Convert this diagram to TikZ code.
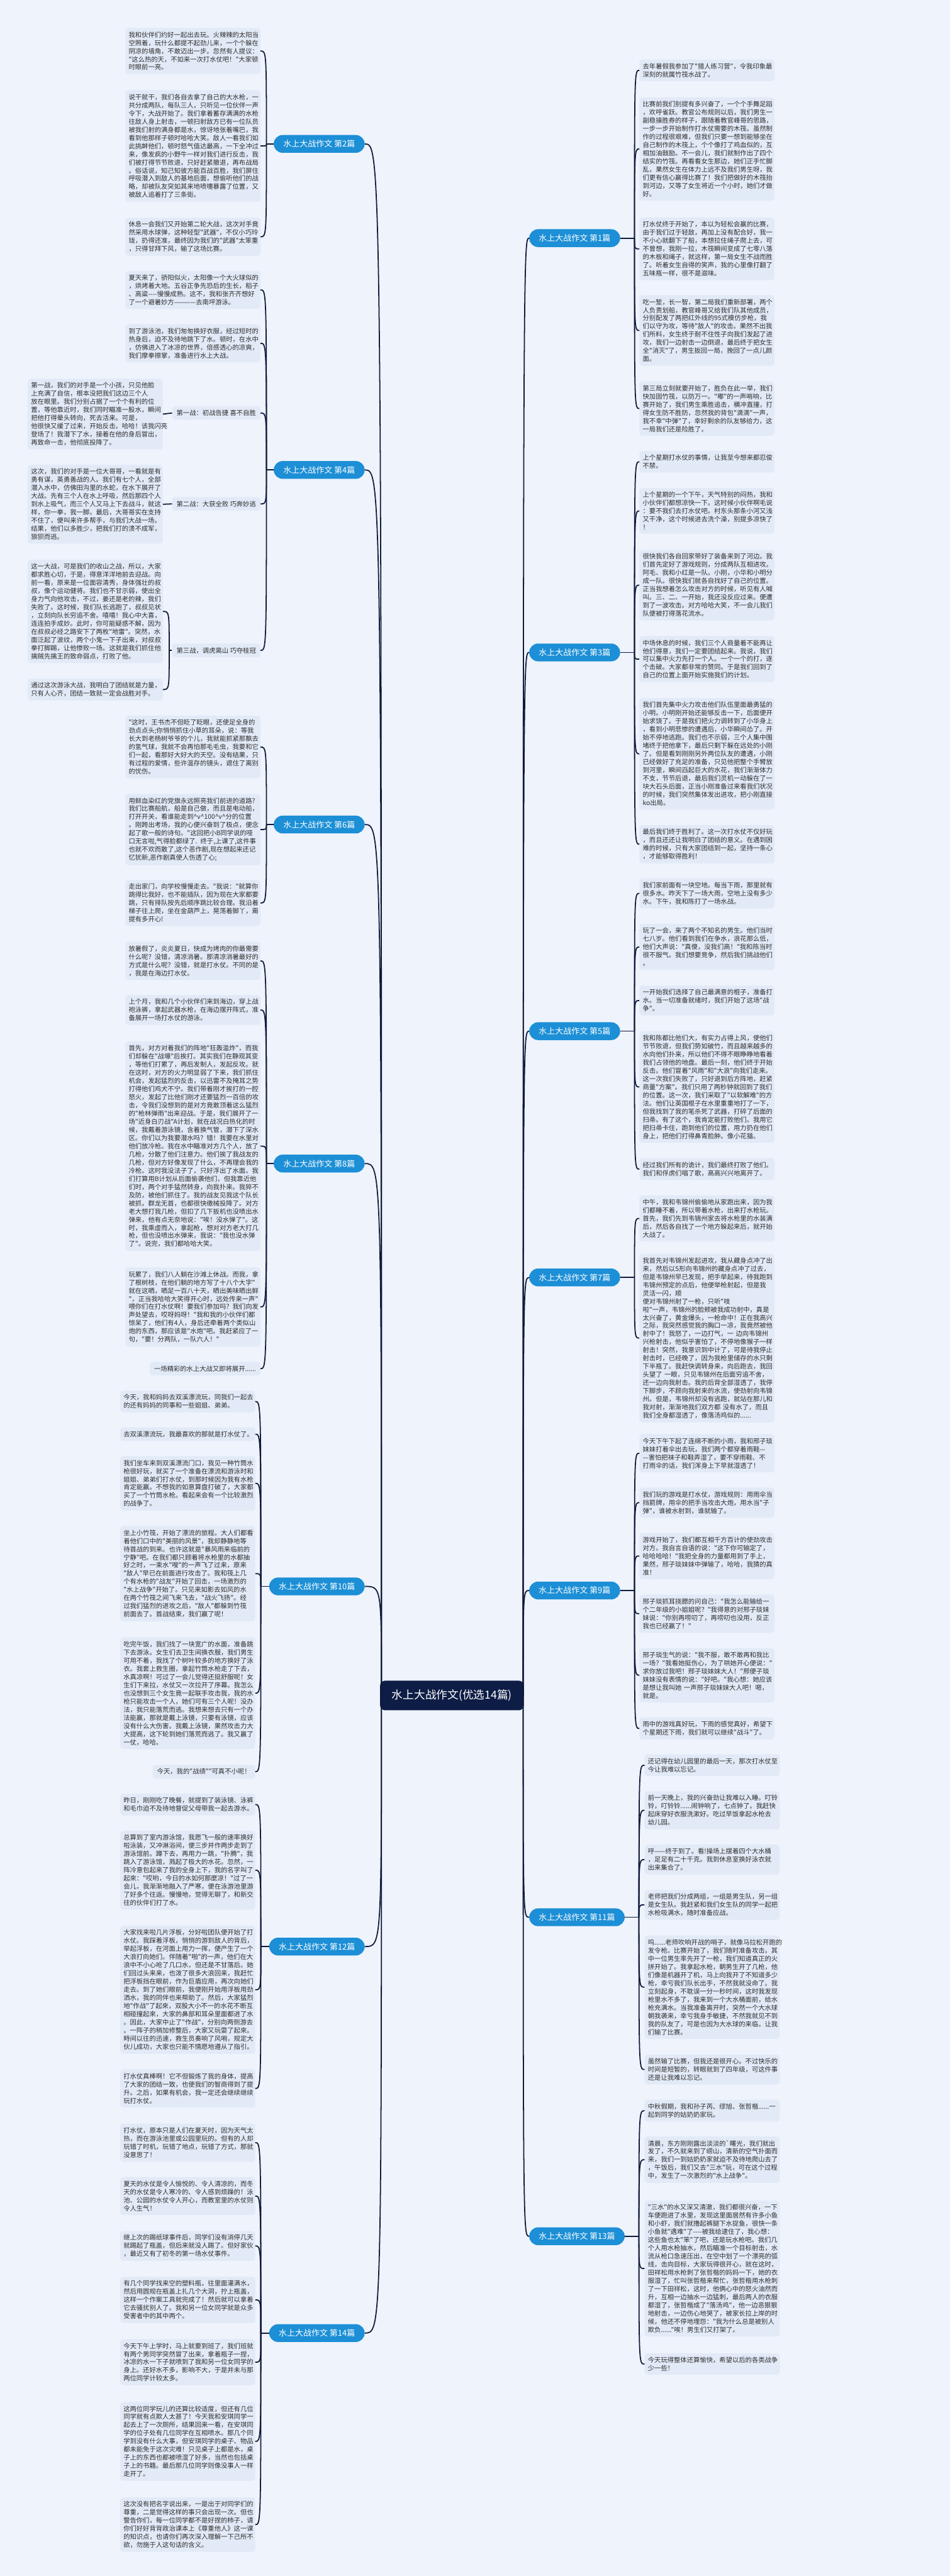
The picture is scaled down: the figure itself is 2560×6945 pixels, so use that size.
\documentclass[tikz,border=0pt]{standalone}
\usepackage{fontspec}
\setmainfont{Noto Sans CJK SC}[Ligatures=TeXOff]
\usepackage{xcolor}
\definecolor{pagebg}{HTML}{EEF3FC}
\definecolor{leaffill}{HTML}{E2EAF7}
\definecolor{pillblue}{HTML}{1C8FD6}
\definecolor{hubnavy}{HTML}{0E1D45}
\definecolor{linenavy}{HTML}{101A3A}
\definecolor{textgray}{HTML}{2E2E2E}
\tikzset{
  leaf/.style={fill=leaffill, rounded corners=8pt, text width=346pt, align=left,
    inner xsep=9pt, inner ysep=10pt, text=textgray, font=\fontsize{17.5}{22}\selectfont},
  shortleaf/.style={fill=leaffill, rounded corners=8pt, inner xsep=12pt, inner ysep=10pt,
    text=textgray, font=\fontsize{17.5}{22}\selectfont},
  pill/.style={fill=pillblue, text=white, rounded corners=24pt, minimum height=48pt,
    inner xsep=26pt, font=\fontsize{22}{26}\selectfont},
  hub/.style={fill=hubnavy, text=white, rounded corners=14pt, minimum height=80pt,
    inner xsep=32pt, font=\fontsize{30}{34}\selectfont},
  branch/.style={draw=linenavy, line width=3pt},
}

\begin{document}
\begin{tikzpicture}[x=1pt, y=-1pt]
  \fill[pagebg] (0,0) rectangle (2560,6945);
  \useasboundingbox (0,0) rectangle (2560,6945);

  % centre
  \node[hub] (hub) at (1218,4571) {水上大战作文(优选14篇)};
  \coordinate (jl) at (1028,4571);
  \coordinate (jr) at (1410,4571);

  % left topics
  \node[pill, anchor=east] (p2) at (983,388) {水上大战作文 第2篇};
  \node[pill, anchor=east] (p4) at (983,1267) {水上大战作文 第4篇};
  \node[pill, anchor=east] (p6) at (983,2223) {水上大战作文 第6篇};
  \node[pill, anchor=east] (p8) at (983,3137) {水上大战作文 第8篇};
  \node[pill, anchor=east] (p10) at (983,4277) {水上大战作文 第10篇};
  \node[pill, anchor=east] (p12) at (983,5248) {水上大战作文 第12篇};
  \node[pill, anchor=east] (p14) at (983,6290) {水上大战作文 第14篇};

  % right topics
  \node[pill, anchor=west] (q1) at (1426,642) {水上大战作文 第1篇};
  \node[pill, anchor=west] (q3) at (1426,1759) {水上大战作文 第3篇};
  \node[pill, anchor=west] (q5) at (1426,2780) {水上大战作文 第5篇};
  \node[pill, anchor=west] (q7) at (1426,3444) {水上大战作文 第7篇};
  \node[pill, anchor=west] (q9) at (1426,4288) {水上大战作文 第9篇};
  \node[pill, anchor=west] (q11) at (1426,5169) {水上大战作文 第11篇};
  \node[pill, anchor=west] (q13) at (1426,6029) {水上大战作文 第13篇};

  % 第2篇
  \coordinate (ja) at (718,388);
  \node[leaf, anchor=east] (a1) at (702,137.5) {我和伙伴们约好一起出去玩。火辣辣的太阳当\\空照着，玩什么都提不起劲儿来，一个个躲在\\阴凉的墙角，不敢迈出一步。忽然有人提议：\\"这么热的天，不如来一次打水仗吧！"大家顿\\时眼前一亮。};
  \node[leaf, anchor=east] (a2) at (702,393.5) {说干就干，我们各自去拿了自己的大水枪，一\\共分成两队，每队三人，只听见一位伙伴一声\\令下，大战开始了。我们拿着蓄存满满的水枪\\往敌人身上射击，一顿扫射敌方已有一位队员\\被我们射的满身都是水，惊讶地张着嘴巴，我\\看到他那样子顿时哈哈大笑。敌人一看我们如\\此挑衅他们，顿时怒气值达最高，一下全冲过\\来，像发疯的小野牛一样对我们进行反击，我\\们被打得节节败退，只好赶紧撤退，再布战局\\。俗话说，知己知彼方能百战百胜，我们屏住\\呼吸潜入到敌人的基地后面，想偷听他们的战\\略，却被队友突如其来地喷嚏暴露了位置，又\\被敌人追着打了三条街。};
  \node[leaf, anchor=east] (a3) at (702,638.5) {休息一会我们又开始第二轮大战，这次对手竟\\然采用水球弹，这种轻型"武器"，不仅小巧玲\\珑，扔得还准，最终因为我们的"武器"太笨重\\，只得甘拜下风，输了这场比赛。};

  % 第4篇
  \coordinate (jb) at (718,1267);
  \node[leaf, anchor=east] (b1) at (702,781.5) {夏天来了，骄阳似火，太阳像一个大火球似的\\，烘烤着大地。五谷正争先恐后的生长，稻子\\、高粱----慢慢成熟。这不，我和张齐齐想好\\了一个避暑妙方————去南坪游泳。};
  \node[leaf, anchor=east] (b2) at (702,925.5) {到了游泳池，我们匆匆换好衣服，经过短时的\\热身后，迫不及待地跳下了水。顿时，在水中\\，仿佛进入了冰凉的世界，倍感透心的凉爽，\\我们摩拳擦掌，准备进行水上大战。};
  \node[shortleaf, anchor=east] (s1) at (702,1113.5) {第一战：初战告捷 喜不自胜};
  \node[shortleaf, anchor=east] (s2) at (702,1358.5) {第二战：大获全败 巧奔妙逃};
  \node[shortleaf, anchor=east] (s3) at (702,1753.5) {第三战，调虎离山 巧夺桂冠};
  \node[leaf, anchor=east] (t1) at (439,1116.5) {第一战，我们的对手是一个小孩，只见他脸\\上充满了自信，根本没把我们这边三个人\\放在眼里。我们分别占据了一个个有利的位\\置，等他靠近时，我们同时瞄准一股水，瞬间\\把他打得晕头转向，死去活来。可是，\\他很快又缓了过来，开始反击。哈哈！该我闪亮\\登场了！我潜下了水，接着在他的身后冒出，\\再致命一击，他彻底投降了。};
  \node[leaf, anchor=east] (t2) at (439,1359.5) {这次，我们的对手是一位大哥哥，一看就是有\\勇有谋，英勇善战的人。我们有七个人，全部\\潜入水中，仿佛田沟里的水蛇，在水下展开了\\大战。先有三个人在水上呼吸，然后那四个人\\到水上吸气，而三个人又马上下去战斗，就这\\样，你一拳，我一脚。最后，大哥哥实在支持\\不住了，便叫来许多帮手，与我们大战一场。\\结果，他们以多胜少，把我们打的溃不成军，\\狼狈而逃。};
  \coordinate (jc3) at (456,1753.5);
  \node[leaf, anchor=east] (t3) at (439,1648.5) {这一大战，可是我们的收山之战，所以，大家\\都求胜心切，于是，得意洋洋地前去迎战。向\\前一看，原来是一位面容清秀，身体强壮的叔\\叔，像个运动健将。我们也不甘示弱，使出全\\身力气向他攻击，不过，姜还是老的辣，我们\\失败了。这时候，我们队长逃跑了，叔叔见状\\，立刻向队长穷追不舍。嘻嘻！我心中大喜，\\连连拍手成妙。此时，你可能疑惑不解，因为\\在叔叔必经之路安下了两枚"地雷"。突然，水\\面泛起了波纹，两个小鬼一下子出来，对叔叔\\拳打脚踢，让他惨败一场。这就是我们抓住他\\擒贼先擒王的致命弱点，打败了他。};
  \node[leaf, anchor=east] (t4) at (439,1859) {通过这次游泳大战，我明白了团结就是力量，\\只有人心齐，团结一致就一定会战胜对手。};

  % 第6篇
  \coordinate (jd) at (718,2223);
  \node[leaf, anchor=east] (c1) at (702,2014) {"这时，王书杰不但眨了眨眼，还使足全身的\\劲点点头;你悄悄抓住小草的耳朵，说：等我\\长大到老杨树爷爷的个儿，我就能抓紧那飘去\\的氢气球，我就不会再怕那毛毛虫，我要和它\\们一起，看那好大好大的天空。没有结果，只\\有过程的爱情，些许温存的镜头，遮住了离别\\的忧伤。};
  \node[leaf, anchor=east] (c2) at (702,2236.5) {用鲜血染红的党旗永远照亮我们前进的道路?\\我们比赛船航，船是自己做，而且是电动船，\\打开开关，看谁能走到\textasciicircum v\textasciicircum 100\textasciicircum v\textasciicircum 分的位置\\。刚跨出考场，我的心便兴奋到了极点，便念\\起了歌一般的诗句。"这回把小B同学说的哑\\口无言啦,气得脸都绿了. 终于,上课了,这件事\\也就不欢而散了,这个恶作剧,现在想起来还记\\忆犹新,恶作剧真使人伤透了心;};
  \node[leaf, anchor=east] (c3) at (702,2434.5) {走出家门，向学校慢慢走去。"我说："就算你\\跳得比我好，也不能插队，因为现在大家都要\\跳，只有排队按先后顺序跳比较合理。我沿着\\梯子往上爬，坐在金葫芦上，晃荡着脚丫，甭\\提有多开心!};

  % 第8篇
  \coordinate (je) at (718,3137);
  \node[leaf, anchor=east] (d1) at (702,2590.5) {放暑假了，炎炎夏日，快成为烤肉的你最需要\\什么呢？没错，清凉消暑。那清凉消暑最好的\\方式是什么呢？没错，就是打水仗。不同的是\\，我是在海边打水仗。};
  \node[leaf, anchor=east] (d2) at (702,2723) {上个月，我和几个小伙伴们来到海边，穿上战\\袍泳裤，拿起武器水枪，在海边摆开阵式，准\\备展开一场打水仗的游泳。};
  \node[leaf, anchor=east] (d3) at (702,3090) {首先，对方对着我们的阵地"狂轰滥炸"，而我\\们却躲在"战壕"后挨打。其实我们在静观其变\\，等他们打累了，再后发制人，发起反攻。就\\在这时，对方的火力明显弱了下来，我们抓住\\机会，发起猛烈的反击，以迅雷不及掩耳之势\\打得他们鸡犬不宁。我们带着刚才挨打的一腔\\怒火，发起了比他们刚才还要猛烈一百倍的攻\\击，令我们没想到的是对方竟敢顶着这么猛烈\\的"枪林弹雨"出来迎战。于是，我们展开了一\\场"近身白刃战"A计划，就在战况白热化的时\\候，我戴着游泳镜，含着换气管，潜下了深水\\区。你们以为我要潜水吗？错！我要在水里对\\他们放冷枪。我在水中瞄准对方几个人，放了\\几枪，分散了他们注意力。他们挨了我战友的\\几枪，但对方好像发现了什么，不再理会我的\\冷枪。这时我没法子了，只好浮出了水面。我\\们打算用B计划从后面偷袭他们，但我靠近他\\们时，两个对手猛然转身，向我扑来。我猝不\\及防，被他们抓住了。我的战友见我这个队长\\被抓，群龙无首，也都很快缴械投降了。对方\\老大想打我几枪，但扣了几下扳机也没喷出水\\弹来，他有点无奈地说："唉！没水弹了"。这\\时，我乘虚而入，拿起枪，想对对方老大打几\\枪，但也没喷出水弹来，我说："我也没水弹\\了"。说完，我们都哈哈大笑。};
  \node[leaf, anchor=east] (d4) at (702,3523.5) {玩累了，我们八人躺在沙滩上休战。而我，拿\\了根树枝，在他们躺的地方写了十八个大字"\\就在这晒，晒足一百八十天，晒出美味晒出鲜\\"，正当我哈哈大笑得开心时，远处传来一声"\\喂你们在打水仗啊！要我们参加吗？我们向发\\声处望去，哎呀妈呀！"我和我的小伙伴们都\\惊呆了，他们有4人，身后还牵着两个类似山\\炮的东西，那应该是"水炮"吧。我赶紧应了一\\句，"要！分两队，一队六人！"};
  \node[shortleaf, anchor=east] (d5) at (702,3690) {一场精彩的水上大战又即将展开......};

  % 第10篇
  \coordinate (jf) at (703,4277);
  \node[leaf, anchor=east] (e1) at (688,3778.5) {今天，我和妈妈去双溪漂流玩，同我们一起去\\的还有妈妈的同事和一些姐姐、弟弟。};
  \node[leaf, anchor=east] (e2) at (688,3866.5) {去双溪漂流玩，我最喜欢的那就是打水仗了。};
  \node[leaf, anchor=east] (e3) at (688,3999) {我们坐车来到双溪漂流门口，我见一种竹筒水\\枪很好玩，就买了一个准备在漂流和游泳时和\\姐姐、弟弟们打水仗，到那时候因为我有水枪\\肯定能赢。不想我的如意算盘打破了，大家都\\买了一个竹筒水枪。看起来会有一个比较激烈\\的战争了。};
  \node[leaf, anchor=east] (e4) at (688,4242.5) {坐上小竹筏，开始了漂流的旅程。大人们都看\\着他们口中的"美丽的风景"，我却静静地等\\待首战的到来。也许这就是"暴风雨来临前的\\宁静"吧。在我们都只顾着将水枪里的水都抽\\好之时，一束水"嗖"的一声飞了过来，原来\\"敌人"早已在前面进行攻击了。我和筏上几\\个有水枪的"战友"开始了回击，一场激烈的\\"水上战争"开始了。只见来如影去如风的水\\在两个竹筏之间飞来飞去，"战火飞扬"。经\\过我们猛烈的进攻之后，"敌人"都躲到竹筏\\前面去了。首战结束，我们赢了呢！};
  \node[leaf, anchor=east] (e5) at (688,4565) {吃完午饭，我们找了一块宽广的水面，准备跳\\下去游泳。女生们去卫生间换衣服，我们男生\\可用不着，我找了个树叶较多的地方换好了泳\\衣。我套上救生圈，拿起竹筒水枪走了下去，\\水真凉啊！可过了一会儿觉得还挺舒服呢！女\\生们下来拉，水仗又一次拉开了序幕。我怎么\\也没想到三个女生竟一起联手攻击我，我的水\\枪只能攻击一个人，她们可有三个人呢！没办\\法，我只能落荒而逃。我想来想去只有一个办\\法能赢，那就是戴上泳镜，只要有泳镜，应该\\没有什么大伤害。我戴上泳镜，果然攻击力大\\大提高，这下轮到她们落荒而逃了。我又赢了\\一仗，哈哈。};
  \node[shortleaf, anchor=east] (e6) at (688,4776.5) {今天，我的"战绩""可真不小呢！};

  % 第12篇
  \coordinate (jg) at (703,5248);
  \node[leaf, anchor=east] (f1) at (688,4865) {昨日，刚刚吃了晚餐，就提到了装泳镜、泳裤\\和毛巾迫不及待地督促父母带我一起去游水。};
  \node[leaf, anchor=east] (f2) at (688,5042) {总算到了室内游泳馆，我愿飞一般的速率换好\\啦泳装，又冲淋浴间，便三步并作两步走到了\\游泳馆前。蹲下去，再用力一跳，"扑腾"，我\\跳入了游泳馆，溅起了极大的水花。忽然，一\\阵冷意包起来了我的全身上下，我的名字叫了\\起來："哎哟，今日的水如何那麼凉！"过了一\\会儿，我渐渐地融入了严寒，便在泳游池里游\\了好多个往返。慢慢地，觉得无聊了，和新交\\往的伙伴们打了水。};
  \node[leaf, anchor=east] (f3) at (688,5364.5) {大家找来啦几片浮板，分好啦团队便开始了打\\水仗。我踩着浮板，悄悄的游到敌人的背后，\\举起浮板，在河面上用力一挥，便产生了一个\\大浪打向她们。伴随着"啪"的一声，他们在大\\浪中不小心呛了几口水，但还是不甘落后。她\\们回过头来来，也泼了很多大浪回来，我赶忙\\把浮板挡在眼前，作为巨盾应用，再次向她们\\走去。到了她们眼前，我便刚开始用浮板用劲\\洒水，我的同伴也来帮助了。然后，大家猛烈\\地"作战"了起來，双股大小不一的水花不断互\\相碰撞起來，大家的鼻部和耳朵里面都进了水\\。因此，大家中止了"作战"，分别向两侧游去\\。一阵子的稍加修整后，大家又玩耍了起來。\\時间以往的迅速，救生员奏响了风哨，规定大\\伙儿成功，大家也只能不情愿地遵从了指引。};
  \node[leaf, anchor=east] (f4) at (688,5630.5) {打水仗真棒啊！它不但锻炼了我的身体，提高\\了大家的团结一致，也使我们的智商得到了提\\升。之后，如果有机会，我一定还会继续继续\\玩打水仗。};

  % 第14篇
  \coordinate (jh) at (703,6290);
  \node[leaf, anchor=east] (g1) at (688,5776.5) {打水仗，原本只是人们在夏天时，因为天气太\\热，而在游泳池里或公园里玩的。但有的人却\\玩错了时机，玩错了地点，玩错了方式，那就\\没意思了！};
  \node[leaf, anchor=east] (g2) at (688,5920.5) {夏天的水仗是令人愉悦的、令人清凉的，而冬\\天的水仗是令人寒冷的、令人感到烦躁的！泳\\池、公园的水仗令人开心，而教室里的水仗则\\令人生气！};
  \node[leaf, anchor=east] (g3) at (688,6055) {继上次的踢纸球事件后，同学们没有消停几天\\就踢起了瓶盖，但后来就没人踢了。但好家伙\\，最近又有了初冬的第一场水仗事件。};
  \node[leaf, anchor=east] (g4) at (688,6200.5) {有几个同学找来空的塑料瓶，往里面灌满水，\\然后用圆规在瓶盖上扎几个大洞，拧上瓶盖，\\这样一个作案工具就完成了！然后就可以拿着\\它去骚扰别人了。我和另一位女同学就是众多\\受害者中的其中两个。};
  \node[leaf, anchor=east] (g5) at (688,6368.5) {今天下午上学时，马上就要到班了，我们班就\\有两个男同学突然冒了出来，拿着瓶子一捏，\\冰凉的水一下子就喷到了我和另一位女同学的\\身上。还好水不多，影响不大，于是并未与那\\两位同学计较太多。};
  \node[leaf, anchor=east] (g6) at (688,6582) {这两位同学玩儿的还算比较适度，但还有几位\\同学就有点欺人太甚了！今天我和安琪同学一\\起去上了一次厕所，结果回来一看，在安琪同\\学的位子处有几位同学在互相喷水。那几个同\\学到没有什么大事，但安琪同学的桌子、物品\\都未能免于这次灾难！只见桌子上都是水，桌\\子上的东西也都被喷湿了好多，当然也包括桌\\子上的书籍。最后那几位同学则像没事人一样\\走开了。};
  \node[leaf, anchor=east] (g7) at (688,6806.5) {这次没有把名字说出来，一是出于对同学们的\\尊重，二是觉得这样的事只会出现一次。但也\\警告你们，每一位同学都不是好捏的柿子，请\\你们好好背背政治课本上《尊重他人》这一课\\的知识点，也请你们再次深入理解一下己所不\\欲，勿施于人这句话的含义。};

  % 第1篇
  \coordinate (ka) at (1710,642);
  \node[leaf, anchor=west] (h1) at (1723,189.5) {去年暑假我参加了"猎人练习营"，令我印象最\\深刻的就属竹筏水战了。};
  \node[leaf, anchor=west] (h2) at (1723,401.5) {比赛前我们别提有多兴奋了，一个个手舞足蹈\\，欢呼雀跃。教官公布规则以后，我们男生一\\副稳操胜券的样子，跟随着教官峰哥的思路，\\一步一步开始制作打水仗需要的木筏。虽然制\\作的过程很艰难，但我们只要一想到能够坐在\\自己制作的木筏上，个个像打了鸡血似的，互\\相加油鼓励。不一会儿，我们就制作出了四个\\结实的竹筏。再看看女生那边，她们正手忙脚\\乱，果然女生在体力上远不及我们男生呀，我\\们更有信心赢得比赛了！我们把做好的木筏抬\\到河边，又等了女生将近一个小时，她们才做\\好。};
  \node[leaf, anchor=west] (h3) at (1723,671) {打水仗终于开始了，本以为轻松会赢的比赛，\\由于我们过于轻敌，再加上没有配合好，我一\\不小心就翻下了船，本想拉住绳子爬上去，可\\不曾想，我刚一拉，木筏瞬间变成了七零八落\\的木板和绳子，就这样，第一局女生不战而胜\\了。听着女生自得的笑声，我的心里像打翻了\\五味瓶一样，很不是滋味。};
  \node[leaf, anchor=west] (h4) at (1723,891) {吃一堑，长一智，第二局我们重新部署，两个\\人负责划船，教官峰哥又给我们队其他成员，\\分别配发了两把红外线的95式模仿步枪，我\\们以守为攻，等待"敌人"的攻击。果然不出我\\们所料，女生终于耐不住性子向我们发起了进\\攻，我们一边射击一边倒退，最后终于把女生\\全"消灭"了，男生扳回一局，挽回了一点儿颜\\面。};
  \node[leaf, anchor=west] (h5) at (1723,1101.5) {第三局立刻就要开始了，胜负在此一举，我们\\快加固竹筏，以防万一。"嘟"的一声哨响，比\\赛开始了，我们男生乘胜追击，横冲直撞，打\\得女生防不胜防，忽然我的背包"滴滴"一声，\\我不幸"中弹"了，幸好剩余的队友够给力，这\\一局我们还是险胜了。};

  % 第3篇
  \coordinate (kb) at (1710,1759);
  \node[leaf, anchor=west] (i1) at (1723,1245) {上个星期打水仗的事情，让我至今想来都忍俊\\不禁。};
  \node[leaf, anchor=west] (i2) at (1723,1377.5) {上个星期的一个下午，天气特别的闷热，我和\\小伙伴们都想凉快一下。这时候小伙伴啊毛说\\：要不我们去打水仗吧。村东头那条小河又浅\\又干净，这个时候进去洗个澡，别提多凉快了\\！};
  \node[leaf, anchor=west] (i3) at (1723,1577.5) {很快我们各自回家带好了装备来到了河边。我\\们首先定好了游戏规则，分成两队互相进攻。\\阿毛、我和小红是一队。小刚，小华和小明分\\成一队。很快我们就各自找好了自己的位置。\\正当我想着怎么攻击对方的时候，听见有人喊\\叫。三、二、一开始，我还没反应过来。便遭\\到了一波攻击。对方哈哈大笑，不一会儿我们\\队便被打得落花流水。};
  \node[leaf, anchor=west] (i4) at (1723,1777) {中场休息的时候，我们三个人商量着不能再让\\他们得意，我们一定要团结起来。我说，我们\\可以集中火力先打一个人。一个一个的打，逐\\个击破。大家都非常的赞同。于是我们回到了\\自己的位置上面开始实施我们的计划。};
  \node[leaf, anchor=west] (i5) at (1723,2032.5) {我们首先集中火力攻击他们队伍里面最勇猛的\\小明。小明刚开始还能够反击一下，后面便开\\始求饶了。于是我们把火力调转到了小华身上\\，看到小明悲惨的遭遇后，小华瞬间怂了。开\\始不停地逃跑。我们也不示弱，三个人集中围\\堵终于把他拿下，最后只剩下躲在远处的小刚\\了。但是看到刚刚另外两位队友的遭遇，小刚\\已经做好了充足的准备，只见他把整个手臂放\\到河里，瞬间舀起巨大的水花，我们渐渐体力\\不支，节节后退，最后我们灵机一动躲在了一\\块大石头后面，正当小刚准备过来看我们状况\\的时候，我们突然集体发出进攻，把小刚直接\\ko出局。};
  \node[leaf, anchor=west] (i6) at (1723,2276) {最后我们终于胜利了。这一次打水仗不仅好玩\\，而且还还让我明白了团结的意义。在遇到困\\难的时候，只有大家团结到一起，坚持一条心\\，才能够取得胜利！};

  % 第5篇
  \coordinate (kc) at (1710,2780);
  \node[leaf, anchor=west] (j1) at (1723,2408.5) {我们家前面有一块空地。每当下雨，那里就有\\很多水。昨天下了一场大雨，空地上没有多少\\水。下午，我和陈打了一场水战。};
  \node[leaf, anchor=west] (j2) at (1723,2553) {玩了一会，来了两个不知名的男生。他们当时\\七八岁。他们看到我们在争水，浪花那么低，\\他们大声说："真傻，没我们高！"我和陈当时\\很不服气。我们想要竞争，然后我们挑战他们\\。};
  \node[leaf, anchor=west] (j3) at (1723,2697.5) {一开始我们选择了自己最满意的棍子，准备打\\水。当一切准备就绪时，我们开始了这场"战\\争"。};
  \node[leaf, anchor=west] (j4) at (1723,2930.5) {我和陈都比他们大，有实力占得上风，使他们\\节节败退，但我们势如破竹，而且越来越多的\\水向他们扑来，所以他们不得不眼睁睁地看着\\我们占领他的地盘。最后一刻，他们终于开始\\反击。他们冒着"风雨"和"大浪"向我们走来。\\这一次我们失败了，只好退到后方阵地，赶紧\\商量"方案"。我们只用了两秒钟就回到了我们\\的位置。这一次，我们采取了"以软解难"的方\\法。他们让英国棍子在水里重重地打了一下，\\但我找到了我的笔杀死了武器，打碎了后面的\\扫帚。有了这个，我肯定能打败他们。我用它\\把扫帚卡住，跑到他们的位置，用力扔在他们\\身上，把他们打得鼻青脸肿。像小花猫。};
  \node[leaf, anchor=west] (j5) at (1723,3152) {经过我们所有的诡计，我们最终打败了他们。\\我们和俘虏们唱了歌，高高兴兴地离开了。};

  % 第7篇
  \coordinate (kd) at (1710,3444);
  \node[leaf, anchor=west] (k1) at (1723,3285) {中午，我和韦锦州偷偷地从家跑出来，因为我\\们都睡不着，所以带着水枪，出来打水枪玩。\\首先，我们先到韦锦州家去将水枪里的水装满\\后，然后各自找了一个地方躲起来后，就开始\\大战了。};
  \node[leaf, anchor=west] (k2) at (1723,3607.5) {我首先对韦锦州发起进攻，我从藏身点冲了出\\来，然后以S形向韦锦州的藏身点冲了过去，\\但是韦锦州早已发现，把手举起来，待我跑到\\韦锦州预定的点后，他便举枪射起，但是我\\灵活一闪，顺 便对韦锦州射了一枪，只听"吱\\啦"一声，韦锦州的脸颊被我成功射中，真是\\太兴奋了，黄金爆头，一枪命中！正在我高兴\\之际，我突然感觉我的胸口一凉，我竟然被他\\射中了！我怒了，一边打气，一 边向韦锦州\\兴枪射击，他似乎害怕了，不停地像猴子一样\\射击！突然，我意识到中计了，可是待我停止\\射击时，已经晚了，因为我枪里储存的水只剩\\下半瓶了。我赶快调转身来，向后跑去，我回\\头望了 一眼，只见韦锦州在后面穷追不舍，\\还一边向我射击。我的后背全部湿透了，我停\\下脚步，不顾向我射来的水流，使劲射向韦锦\\州。但是，韦锦州却没有逃跑，就站在那儿和\\我对射，渐渐地我们双方都 没有水了，而且\\我们全身都湿透了，像落汤鸡似的......};

  % 第9篇
  \coordinate (ke) at (1710,4288);
  \node[leaf, anchor=west] (l1) at (1723,3918) {今天下午下起了连绵不断的小雨，我和邢子琰\\妹妹打着伞出去玩，我们两个都穿着雨鞋—\\—害怕把袜子和鞋弄湿了，要不穿雨鞋、不\\打雨伞的话，我们浑身上下早就湿透了！};
  \node[leaf, anchor=west] (l2) at (1723,4051) {我们玩的游戏是打水仗，游戏规则：用雨伞当\\挡箭牌，用伞的把手当攻击大炮，用水当"子\\弹"，谁被水射到，谁就输了。};
  \node[leaf, anchor=west] (l3) at (1723,4195) {游戏开始了，我们都互相千方百计的使劲攻击\\对方。我自言自语的说："这下你可输定了，\\哈哈哈哈！"我把全身的力量都用到了手上，\\果然，邢子琰妹妹中弹输了，哈哈，我猜的真\\准！};
  \node[leaf, anchor=west] (l4) at (1723,4350.5) {邢子琰抓耳挠腮的问自己："我怎么能输给一\\个二年级的小姐姐呢？"我得意的对邢子琰妹\\妹说："你别再唠叨了，再唠叨也没用，反正\\我也已经赢了！"};
  \node[leaf, anchor=west] (l5) at (1723,4516.5) {邢子琰生气的说："我不服，敢不敢再和我比\\一场？"我看她挺伤心，为了哄她开心便说："\\求你放过我吧！邢子琰妹妹大人！"邢便子琰\\妹妹没有表情的说："好吧。"我心想：她应该\\是想让我叫她 一声邢子琰妹妹大人吧！嗯，\\就是。};
  \node[leaf, anchor=west] (l6) at (1723,4660) {雨中的游戏真好玩，下雨的感觉真好，希望下\\个星期还下雨，我们就可以继续"战斗"了。};

  % 第11篇
  \coordinate (kf) at (1722,5169);
  \node[leaf, anchor=west] (m1) at (1737,4759) {还记得在幼儿园里的最后一天，那次打水仗至\\今让我难以忘记。};
  \node[leaf, anchor=west] (m2) at (1737,4880.5) {前一天晚上，我的兴奋劲让我难以入睡。叮铃\\铃，叮铃铃......闹钟响了，七点钟了。我赶快\\起床穿好衣服洗漱好。吃过早饭拿起水枪去\\幼儿园。};
  \node[leaf, anchor=west] (m3) at (1737,5013.5) {呼——终于到了。看!操场上摆着四个大水桶\\，足足有二十千克。我到休息室换好泳衣就\\出来集合了。};
  \node[leaf, anchor=west] (m4) at (1737,5135.5) {老师把我们分成两组，一组是男生队，另一组\\是女生队。我赶紧和我们女生队的同学一起把\\水枪吸满水，随时准备应战。};
  \node[leaf, anchor=west] (m5) at (1737,5357.5) {呜......老师吹响开战的哨子，就像马拉松开跑的\\发令枪。比赛开始了，我们随时准备攻击。其\\中一位男生率先开了一枪，我们知道真正的火\\拼开始了。我拿起水枪，朝男生开了几枪，他\\们像是机器开了机，马上向我开了不知道多少\\枪，幸亏我们队长出手，不然我就没命了。我\\立刻起身，不耽误一分一秒时间，这时我发现\\枪里水不多了，我来到一个大水桶面前，给水\\枪充满水。当我准备离开时，突然一个大水球\\朝我袭来，幸亏我身手敏捷，不然我就见不到\\我的队友了，可是也因为大水球的来临，让我\\们输了比赛。};
  \node[leaf, anchor=west] (m6) at (1737,5579.5) {虽然输了比赛，但我还是很开心。不过快乐的\\时间是短暂的，转眼就到了四年级，可这件事\\还是让我难以忘记。};

  % 第13篇
  \coordinate (kg) at (1722,6029);
  \node[leaf, anchor=west] (n1) at (1737,5690.5) {中秋假期，我和孙子芮、缪旭、张哲楷......一\\起到同学的姑奶奶家玩。};
  \node[leaf, anchor=west] (n2) at (1737,5822.5) {清晨，东方刚刚露出淡淡的`曙光，我们就出\\发了，不久就来到了崂山，清新的空气扑面而\\来，我们一到姑奶奶家就迫不及待地爬山去了\\，午饭后，我们又去"三水"玩，可在这个过程\\中，发生了一次激烈的"水上战争"。};
  \node[leaf, anchor=west] (n3) at (1737,6116) {"三水"的水又深又清澈，我们都很兴奋，一下\\车便跑进了水里，发现这里面居然有许多小鱼\\和小虾，我们就撸起裤腿下水捉鱼，很快一条\\小鱼就"遇难"了----被我给逮住了，我心想：\\这些鱼也太"笨"了吧，还是玩水枪吧。我们几\\个人用水枪抽水，然后瞄准一个目标射击，水\\流从枪口急速压出，在空中划了一个漂亮的弧\\线，击向目标，大家玩得很开心，就在这时，\\田祥松用水枪刺了张哲楷的妈妈一下，她的衣\\服湿了，忙叫张哲楷来帮忙，张哲楷用水枪刺\\了一下田祥松，这时，他俩心中的怒火油然而\\升，互相一边抽水一边猛刺，最后两人的衣服\\都湿了，张哲楷成了"落汤鸡"，他一边恶狠狠\\地射击，一边伤心地哭了，被家长拉上岸的时\\候，他还不停地埋怨："我为什么总是被别人\\欺负......"唉！男生们又打架了。};
  \node[leaf, anchor=west] (n4) at (1737,6373.5) {今天玩得整体还算愉快，希望以后的各类战争\\少一些！};

  % connectors: centre to topics
  \draw[branch] (hub.west) -- (jl);
  \draw[branch] (hub.east) -- (jr);
  \foreach \p in {p2,p4,p6,p8,p10,p12,p14}
    \draw[branch] (jl) .. controls (jl |- \p.east) .. (\p.east);
  \foreach \q in {q1,q3,q5,q7,q9,q11,q13}
    \draw[branch] (jr) .. controls (jr |- \q.west) .. (\q.west);

  % topics to paragraphs, left side
  \draw[branch] (p2.west) -- (ja);
  \foreach \c in {a1,a2,a3}
    \draw[branch] (ja) .. controls (ja |- \c.east) .. (\c.east);
  \draw[branch] (p4.west) -- (jb);
  \foreach \c in {b1,b2,s1,s2,s3}
    \draw[branch] (jb) .. controls (jb |- \c.east) .. (\c.east);
  \draw[branch] (s1.west) -- (t1.east);
  \draw[branch] (s2.west) -- (t2.east);
  \draw[branch] (s3.west) -- (jc3);
  \foreach \c in {t3,t4}
    \draw[branch] (jc3) .. controls (jc3 |- \c.east) .. (\c.east);
  \draw[branch] (p6.west) -- (jd);
  \foreach \c in {c1,c2,c3}
    \draw[branch] (jd) .. controls (jd |- \c.east) .. (\c.east);
  \draw[branch] (p8.west) -- (je);
  \foreach \c in {d1,d2,d3,d4,d5}
    \draw[branch] (je) .. controls (je |- \c.east) .. (\c.east);
  \draw[branch] (p10.west) -- (jf);
  \foreach \c in {e1,e2,e3,e4,e5,e6}
    \draw[branch] (jf) .. controls (jf |- \c.east) .. (\c.east);
  \draw[branch] (p12.west) -- (jg);
  \foreach \c in {f1,f2,f3,f4}
    \draw[branch] (jg) .. controls (jg |- \c.east) .. (\c.east);
  \draw[branch] (p14.west) -- (jh);
  \foreach \c in {g1,g2,g3,g4,g5,g6,g7}
    \draw[branch] (jh) .. controls (jh |- \c.east) .. (\c.east);

  % topics to paragraphs, right side
  \draw[branch] (q1.east) -- (ka);
  \foreach \c in {h1,h2,h3,h4,h5}
    \draw[branch] (ka) .. controls (ka |- \c.west) .. (\c.west);
  \draw[branch] (q3.east) -- (kb);
  \foreach \c in {i1,i2,i3,i4,i5,i6}
    \draw[branch] (kb) .. controls (kb |- \c.west) .. (\c.west);
  \draw[branch] (q5.east) -- (kc);
  \foreach \c in {j1,j2,j3,j4,j5}
    \draw[branch] (kc) .. controls (kc |- \c.west) .. (\c.west);
  \draw[branch] (q7.east) -- (kd);
  \foreach \c in {k1,k2}
    \draw[branch] (kd) .. controls (kd |- \c.west) .. (\c.west);
  \draw[branch] (q9.east) -- (ke);
  \foreach \c in {l1,l2,l3,l4,l5,l6}
    \draw[branch] (ke) .. controls (ke |- \c.west) .. (\c.west);
  \draw[branch] (q11.east) -- (kf);
  \foreach \c in {m1,m2,m3,m4,m5,m6}
    \draw[branch] (kf) .. controls (kf |- \c.west) .. (\c.west);
  \draw[branch] (q13.east) -- (kg);
  \foreach \c in {n1,n2,n3,n4}
    \draw[branch] (kg) .. controls (kg |- \c.west) .. (\c.west);
\end{tikzpicture}
\end{document}
